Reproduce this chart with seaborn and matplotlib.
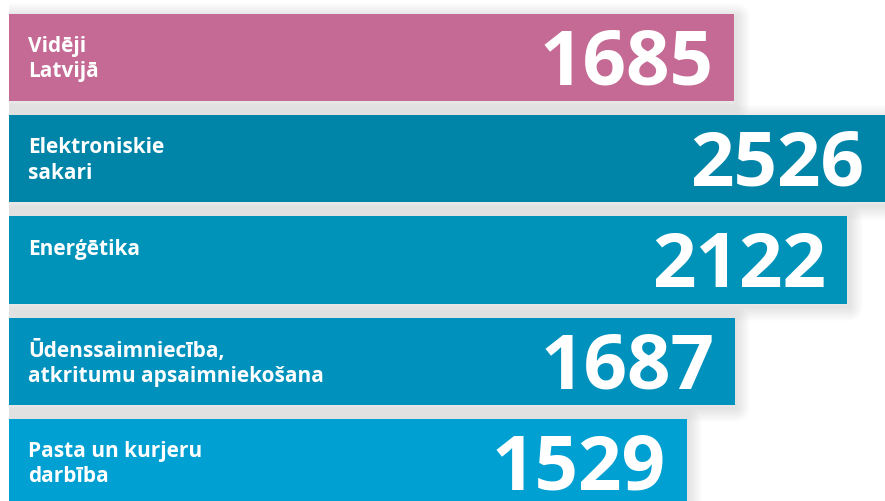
import matplotlib
matplotlib.use("Agg")
import matplotlib.pyplot as plt
import seaborn as sns
import pandas as pd
from matplotlib.patheffects import AbstractPathEffect, Normal

# ---- data ----
sectors = [
    "Vidēji\nLatvijā",
    "Elektroniskie\nsakari",
    "Enerģētika",
    "Ūdenssaimniecība,\natkritumu apsaimniekošana",
    "Pasta un kurjeru\ndarbība",
]
values = [1685, 2526, 2122, 1687, 1529]
colors = ["#C46A94", "#0084A8", "#0093BA", "#0091BC", "#00A0D3"]

df = pd.DataFrame({"sector": sectors, "value": values})

sns.set_theme(style="white")
plt.rcParams["font.family"] = ["Open Sans", "DejaVu Sans"]

W, H, DPI = 885, 502, 100
fig = plt.figure(figsize=(W / DPI, H / DPI), dpi=DPI)
fig.patch.set_facecolor("white")
ax = fig.add_axes([9 / W, 0, 1 - 9 / W, 1])

sns.barplot(data=df, x="value", y="sector", hue="sector", palette=colors,
            legend=False, width=0.86, orient="h", ax=ax, linewidth=0,
            saturation=1)

ax.set_xscale("log")
ax.set_xlim(382.6, 2292)
ax.set_ylim(4.380, -0.578)
ax.axis("off")
xmax = ax.get_xlim()[1]


class SoftShadow(AbstractPathEffect):
    def __init__(self, offset=(1.0, -2.5), spreads_px=(1, 2, 3, 4, 5, 6, 7, 8, 9, 10, 11, 12, 13, 14),
                 alpha=0.009):
        super().__init__(offset)
        self.spreads = [2 * s * 72 / DPI for s in spreads_px]
        self.alpha = alpha

    def draw_path(self, renderer, gc, tpath, affine, rgbFace=None):
        for lw in self.spreads:
            gc0 = renderer.new_gc()
            gc0.copy_properties(gc)
            gc0.set_foreground((0, 0, 0))
            gc0.set_alpha(self.alpha)
            gc0.set_linewidth(lw)
            gc0.set_joinstyle("round")
            renderer.draw_path(gc0, tpath, affine + self._offset_transform(renderer), None)
            gc0.restore()


for p in ax.patches:
    p.set_path_effects([SoftShadow(), Normal()])

for i, (lab, v) in enumerate(zip(sectors, values)):
    ax.annotate(lab, xy=(0, i), xycoords=("axes fraction", "data"),
                xytext=(19, 22.5), textcoords="offset pixels",
                ha="left", va="top", color="white", fontsize=15,
                fontweight="bold", linespacing=1.27)
    ax.annotate(f"{v}", xy=(min(v, xmax), i), xycoords="data",
                xytext=(-21, -26), textcoords="offset pixels",
                ha="right", va="baseline", color="white", fontsize=55,
                fontweight="bold", annotation_clip=False)

fig.savefig("out.png", dpi=DPI, facecolor="white")
